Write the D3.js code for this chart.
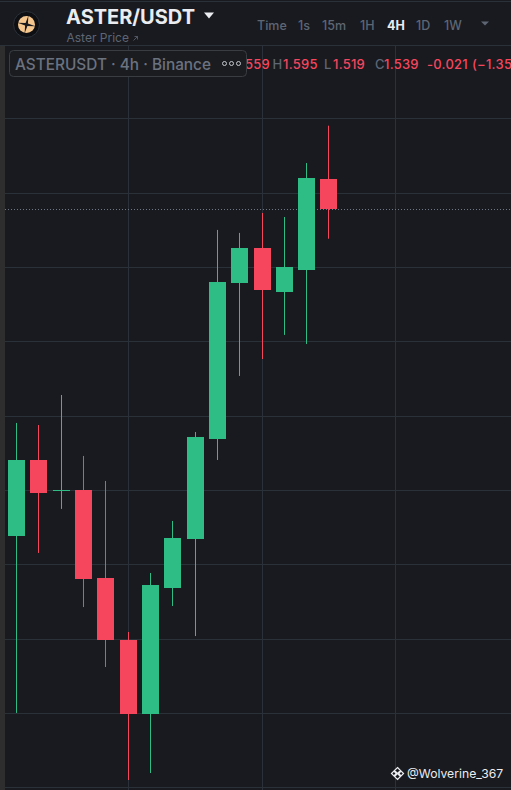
<!DOCTYPE html>
<html><head><meta charset="utf-8">
<style>html,body{margin:0;padding:0;background:#181a20;overflow:hidden}svg{display:block}text{font-family:"Inter","Noto Sans",sans-serif}</style>
<script src="https://cdn.jsdelivr.net/npm/d3@7/dist/d3.min.js"></script></head><body>
<script>
const opens  = [1.3191,1.3702,1.3500,1.3500,1.2909,1.2492,1.1994,1.2841,1.3171,1.3843,1.4892,1.5128,1.4832,1.4980,1.559];
const closes = [1.3702,1.3480,1.3500,1.2902,1.2492,1.1994,1.2861,1.3177,1.3857,1.4899,1.5128,1.4845,1.5000,1.5598,1.539];
const highs  = [1.3951,1.3937,1.4139,1.3729,1.3561,1.2545,1.2942,1.3292,1.3890,1.5249,1.5229,1.5363,1.5336,1.5699,1.595];
const lows   = [1.2001,1.3077,1.3373,1.2713,1.2310,1.1550,1.1597,1.2720,1.2518,1.3702,1.4267,1.4381,1.4543,1.4482,1.519];
const priceTicks = [1.15,1.2,1.25,1.3,1.35,1.4,1.45,1.5,1.55,1.6];
const timeGridBars = [5,11,17];
const intervals = ["Time","1s","15m","1H","4H","1D","1W"];
const lastPrice = 1.539;

const W=511,H=790,up="#2ebd85",down="#f6465d",grid="#2b3139",muted="#5e6673";
const svg=d3.select("body").append("svg").attr("width",W).attr("height",H);
svg.append("rect").attr("width",W).attr("height",H).attr("fill","#181a20");
const defs=svg.append("defs");
defs.append("clipPath").attr("id","plot").append("rect").attr("x",5).attr("y",46).attr("width",W-5).attr("height",H-46);

const y=d3.scaleLinear().domain([1.1,1.65]).range([861.8,43.9]);
const x=d3.scaleLinear().domain([0,14]).range([16.5,328.98]);
const chart=svg.append("g").attr("clip-path","url(#plot)");
const px=i=>Math.floor(x(i))+.5;

chart.selectAll("line.h").data(priceTicks).join("line").attr("class","h")
  .attr("x1",5).attr("x2",W).attr("y1",d=>Math.round(y(d))+.5).attr("y2",d=>Math.round(y(d))+.5)
  .attr("stroke",grid).attr("stroke-width",1);
chart.selectAll("line.v").data(timeGridBars).join("line").attr("class","v")
  .attr("x1",px).attr("x2",px).attr("y1",46).attr("y2",H)
  .attr("stroke",grid).attr("stroke-width",1);

chart.append("line").attr("x1",5).attr("x2",W).attr("y1",Math.round(y(lastPrice))+.5).attr("y2",Math.round(y(lastPrice))+.5)
  .attr("stroke","#6f7784").attr("stroke-width",1).attr("stroke-dasharray","1 2");

const idx=d3.range(opens.length);
const col=i=>closes[i]>=opens[i]?up:down;
const bw=17;
chart.selectAll("line.w").data(idx).join("line").attr("class","w")
  .attr("x1",px).attr("x2",px)
  .attr("y1",i=>y(highs[i])).attr("y2",i=>y(lows[i]))
  .attr("stroke",col).attr("stroke-width",1);
chart.selectAll("rect.b").data(idx).join("rect").attr("class","b")
  .attr("x",i=>px(i)-bw/2).attr("width",bw)
  .attr("y",i=>Math.round(y(Math.max(opens[i],closes[i]))))
  .attr("height",i=>Math.max(1,Math.round(Math.abs(y(opens[i])-y(closes[i])))))
  .attr("fill",col);

// left strip + header
svg.append("rect").attr("x",0).attr("y",46).attr("width",5).attr("height",H-46).attr("fill","#2e2e2e");
svg.append("rect").attr("width",W).attr("height",45).attr("fill","#181a20");
svg.append("line").attr("x1",0).attr("x2",W).attr("y1",1.5).attr("y2",1.5).attr("stroke","#2b3139");
svg.append("line").attr("x1",0).attr("x2",W).attr("y1",45.5).attr("y2",45.5).attr("stroke","#2b3139");

// logo
const lg=svg.append("g").attr("transform","translate(26.5,24.5)");
lg.append("circle").attr("r",13).attr("fill","#0e0f12").attr("stroke","#2b3139");
lg.append("circle").attr("r",8.5).attr("fill","#f5c78e");
lg.append("path").attr("d","M0,-9L1.2,-1.2L9,0L1.2,1.2L0,9L-1.2,1.2L-9,0L-1.2,-1.2Z").attr("fill","#181a20").attr("transform","rotate(12)");

svg.append("text").attr("x",66).attr("y",23.5).attr("fill","#eaecef").attr("font-size",20).attr("font-weight",700).attr("textLength",129).text("ASTER/USDT");
svg.append("path").attr("d","M204,12.5h10l-5,6z").attr("fill","#eaecef");
svg.append("text").attr("x",66.5).attr("y",42).attr("fill",muted).attr("font-size",12).text("Aster Price");
svg.append("path").attr("d","M133.5,40.5l4,-4M134.5,36.5h3v3").attr("fill","none").attr("stroke",muted).attr("stroke-width",.8);

const ivX=[257,298,322,360,387,416,444];
svg.selectAll("text.iv").data(intervals).join("text").attr("class","iv")
  .attr("x",(d,i)=>ivX[i]).attr("y",29.5).attr("font-size",12.5)
  .attr("fill",d=>d==="4H"?"#eaecef":muted).attr("font-weight",d=>d==="4H"?700:500).text(d=>d);
svg.append("path").attr("d","M481,21.5h8l-4,4z").attr("fill",muted);

// OHLC row
const rowParts=[["559",down,245],["H",muted,272.5],["1.595",down,283],["L",muted,324],["1.519",down,333],["C",muted,375],["1.539",down,384],["-0.021",down,427],["(−1.35",down,472]];
svg.selectAll("text.r").data(rowParts).join("text").attr("class","r")
  .attr("x",d=>d[2]).attr("y",69).attr("font-size",13).attr("letter-spacing",.25).attr("font-weight",500).attr("fill",d=>d[1]).text(d=>d[0]);

// legend box
svg.append("rect").attr("x",9.5).attr("y",50.5).attr("width",237).attr("height",26).attr("rx",4)
  .attr("fill","#1b1c1f").attr("stroke","#3a3d42");
svg.append("text").attr("x",15).attr("y",69.5).attr("font-size",16).attr("font-weight",500).attr("fill","#6b7280")
  .attr("textLength",196).attr("lengthAdjust","spacingAndGlyphs").text("ASTERUSDT · 4h · Binance");
svg.selectAll("circle.dot").data([224.5,231.5,238.5]).join("circle").attr("class","dot")
  .attr("cx",d=>d).attr("cy",63.5).attr("r",2).attr("fill","none").attr("stroke","#c4c7cc").attr("stroke-width",1);

// watermark
const wm=svg.append("g").attr("transform","translate(397.5,773.5)");
wm.append("path").attr("d","M0,-6L3,-3L0,0L-3,-3ZM0,6L3,3L0,0L-3,3ZM-6,0L-3.6,-2.4L-1.2,0L-3.6,2.4ZM6,0L3.6,-2.4L1.2,0L3.6,2.4Z").attr("fill","none").attr("stroke","#eaecef").attr("stroke-width",1.2);
svg.append("text").attr("x",407).attr("y",778).attr("font-size",12.2).attr("fill","#eaecef").text("@Wolverine_367");
</script></body></html>
